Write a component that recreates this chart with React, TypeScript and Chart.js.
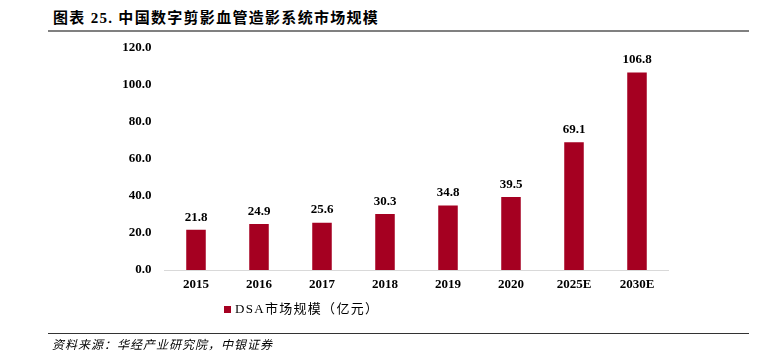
import React, { useEffect, useRef } from "react";
import { Chart, registerables } from "chart.js";

Chart.register(...registerables);

const categories = ["2015", "2016", "2017", "2018", "2019", "2020", "2025E", "2030E"];
const marketSize = [21.8, 24.9, 25.6, 30.3, 34.8, 39.5, 69.1, 106.8];
const seriesName = "DSA市场规模（亿元）";
const titleText = "图表 25. 中国数字剪影血管造影系统市场规模";
const sourceText = "资料来源：华经产业研究院，中银证券";

const BAR_COLOR = "#A50021";
const SERIF = "'Liberation Serif', 'Times New Roman', 'Noto Sans CJK SC', serif";

const valueLabels = {
  id: "valueLabels",
  afterDatasetsDraw(chart: any) {
    const ctx = chart.ctx;
    const meta = chart.getDatasetMeta(0);
    ctx.save();
    ctx.font = `bold 13px ${SERIF}`;
    ctx.fillStyle = "#000";
    ctx.textAlign = "center";
    ctx.textBaseline = "bottom";
    meta.data.forEach((bar: any, i: number) => {
      const v = chart.data.datasets[0].data[i];
      ctx.fillText(Number(v).toFixed(1), bar.x, bar.y - 6);
    });
    ctx.restore();
  },
};

export default function App() {
  const ref = useRef<HTMLCanvasElement | null>(null);

  useEffect(() => {
    if (!ref.current) return;
    const chart = new Chart(ref.current, {
      type: "bar",
      data: {
        labels: categories,
        datasets: [
          {
            label: seriesName,
            data: marketSize,
            backgroundColor: BAR_COLOR,
            barPercentage: 0.62,
            categoryPercentage: 0.5,
          },
        ],
      },
      options: {
        animation: false,
        responsive: false,
        maintainAspectRatio: false,
        layout: { padding: { left: 0, right: 97.5, top: 48, bottom: 0 } },
        plugins: {
          legend: { display: false },
          tooltip: { enabled: false },
          title: { display: false },
        },
        scales: {
          x: {
            grid: { display: false, drawTicks: false },
            border: { display: true, color: "#D9D9D9", width: 1 },
            ticks: {
              color: "#000",
              font: { family: SERIF, size: 13, weight: "bold" },
              padding: 7,
              maxRotation: 0,
              autoSkip: false,
            },
            afterFit(scale: any) {
              scale.height = 88;
            },
          },
          y: {
            min: 0,
            max: 120,
            grid: { display: false, drawTicks: false },
            border: { display: false },
            ticks: {
              stepSize: 20,
              color: "#000",
              font: { family: SERIF, size: 13, weight: "bold" },
              padding: 13,
              callback: (v: any) => Number(v).toFixed(1),
            },
            afterFit(scale: any) {
              scale.width = 164.5;
            },
          },
        },
      },
      plugins: [valueLabels],
    });
    return () => chart.destroy();
  }, []);

  return (
    <div
      style={{
        position: "absolute",
        left: 0,
        top: 0,
        width: 766,
        height: 358,
        background: "#fff",
        overflow: "hidden",
      }}
    >
      <div
        style={{
          position: "absolute",
          left: 53,
          top: 8,
          fontFamily: SERIF,
          fontWeight: "bold",
          fontSize: 15,
          letterSpacing: 1.3,
          lineHeight: "20px",
          color: "#000",
          whiteSpace: "nowrap",
        }}
      >
        {titleText}
      </div>
      <div
        style={{
          position: "absolute",
          left: 48,
          top: 30,
          width: 701,
          height: 2,
          background: "#808080",
        }}
      />
      <canvas
        ref={ref}
        width={766}
        height={358}
        style={{ position: "absolute", left: 0, top: 0, width: 766, height: 358 }}
      />
      <div
        style={{
          position: "absolute",
          left: 224,
          top: 300,
          display: "flex",
          alignItems: "center",
          fontFamily: SERIF,
          fontSize: 13,
          letterSpacing: 1.3,
          lineHeight: "18px",
          color: "#000",
          whiteSpace: "nowrap",
        }}
      >
        <span
          style={{
            display: "inline-block",
            width: 7,
            height: 7,
            background: BAR_COLOR,
            marginRight: 4,
          }}
        />
        <span>{seriesName}</span>
      </div>
      <div
        style={{
          position: "absolute",
          left: 48,
          top: 333,
          width: 701,
          height: 1,
          background: "#333",
        }}
      />
      <div
        style={{
          position: "absolute",
          left: 52,
          top: 337,
          fontFamily: SERIF,
          fontStyle: "italic",
          fontSize: 12,
          letterSpacing: 1,
          lineHeight: "16px",
          color: "#000",
          whiteSpace: "nowrap",
        }}
      >
        {sourceText}
      </div>
    </div>
  );
}
